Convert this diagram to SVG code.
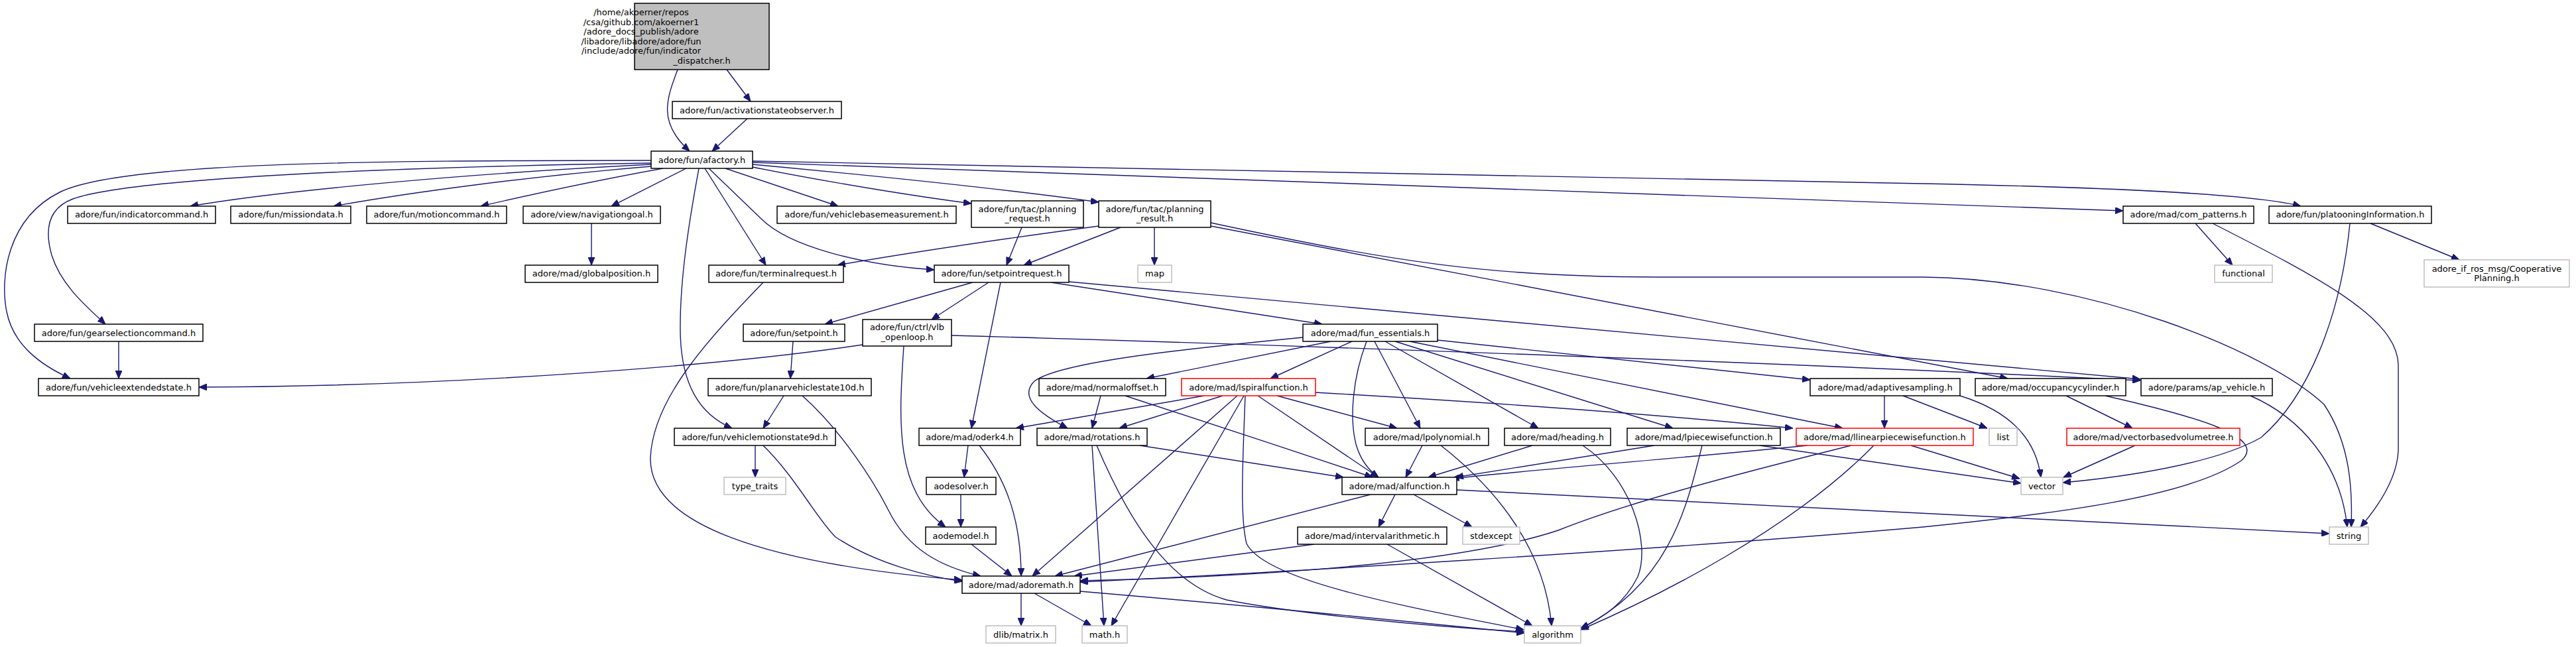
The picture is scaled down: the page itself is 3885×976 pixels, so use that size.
<svg xmlns="http://www.w3.org/2000/svg" width="3885" height="976" viewBox="0 0 3885 976">
<style>
.n rect{fill:#fff;stroke:#000;stroke-width:1.5}
.n.g rect{stroke:#bfbfbf}
.n.r rect{stroke:#ff0000}
#root rect{fill:#bfbfbf}
text{font-family:"DejaVu Sans",sans-serif;font-size:13px;text-anchor:middle;fill:#000}
#edges path{fill:none;stroke:#191970;stroke-width:1.4;marker-end:url(#a)}
</style>
<defs>
<marker id="a" markerWidth="12" markerHeight="10" refX="12" refY="5" orient="auto" markerUnits="userSpaceOnUse"><path d="M0,0L12,5L0,10z" fill="#191970" stroke="#191970" stroke-width="1"/></marker>
</defs>
<rect width="3885" height="976" fill="#fff"/>
<g id="edges">
<path d="M1022,105 C1005,150 992,185 1040,228"/>
<path d="M1096,105 L1132,153"/>
<path d="M1127,179 L1074,228"/>
<path d="M982,242 C550,242 180,245 90,290 C10,330 0,420 10,470 C20,520 60,550 106,571"/>
<path d="M982,246 C600,252 200,268 110,300 C70,315 68,350 78,385 C92,430 130,462 159,489"/>
<path d="M982,248 C700,262 420,288 287,311"/>
<path d="M982,251 C800,266 620,290 503,311"/>
<path d="M1000,254 C900,272 790,296 725,311"/>
<path d="M1035,254 L922,311"/>
<path d="M1054,254 C1040,330 1025,420 1026,500 C1027,580 1055,625 1104,646"/>
<path d="M1063,254 L1155,400"/>
<path d="M1069,254 L1148,330 C1190,372 1300,400 1409,407"/>
<path d="M1094,254 L1264,311"/>
<path d="M1135,252 C1250,275 1380,296 1465,307"/>
<path d="M1135,248 C1350,268 1550,290 1657,305"/>
<path d="M1135,245 L3202,318"/>
<path d="M1135,243 L2900,277 C3200,283 3400,293 3470,311"/>
<path d="M892,337 L892,400"/>
<path d="M179,515 L179,571"/>
<path d="M1541,343 L1518,400"/>
<path d="M1657,341 C1500,362 1350,385 1263,400"/>
<path d="M1690,343 L1544,400"/>
<path d="M1741,343 L1741,400"/>
<path d="M1826,336 C2100,395 2250,418 2500,418 L2900,418 C3150,420 3420,530 3505,610 C3545,670 3548,740 3546,795"/>
<path d="M1826,341 L3028,571"/>
<path d="M1467,426 L1244,489"/>
<path d="M1491,426 L1405,482"/>
<path d="M1509,426 L1465,646"/>
<path d="M1585,426 L1994,489"/>
<path d="M1612,425 L3228,572"/>
<path d="M1435,506 C2000,522 2700,548 3228,574"/>
<path d="M1301,520 C1100,550 700,583 300,584"/>
<path d="M1363,522 C1355,640 1350,740 1426,795"/>
<path d="M1196,515 L1192,571"/>
<path d="M1151,426 C1070,510 985,600 981,690 C978,790 1150,850 1451,875"/>
<path d="M1182,597 L1151,646"/>
<path d="M1210,597 C1270,650 1320,730 1340,770 C1370,830 1420,855 1479,869"/>
<path d="M1139,672 L1139,720"/>
<path d="M1151,672 C1200,720 1230,780 1260,810 C1320,850 1400,870 1451,877"/>
<path d="M1460,672 L1454,720"/>
<path d="M1477,672 C1515,720 1540,780 1540,869"/>
<path d="M1449,746 L1449,795"/>
<path d="M1465,821 L1526,869"/>
<path d="M1540,895 L1540,944"/>
<path d="M1560,895 L1646,944"/>
<path d="M1629,892 C1900,915 2150,940 2299,955"/>
<path d="M1647,672 L1665,944"/>
<path d="M1654,672 C1700,780 1760,880 1850,905 C1950,925 2150,945 2299,953"/>
<path d="M1719,672 L2026,720"/>
<path d="M1816,597 L1532,646"/>
<path d="M1844,597 L1688,646"/>
<path d="M1866,597 L1557,869"/>
<path d="M1876,597 L1676,944"/>
<path d="M1878,597 C1874,700 1870,780 1880,820 C1910,880 2150,920 2298,950"/>
<path d="M1897,597 L2079,720"/>
<path d="M1926,597 L2107,646"/>
<path d="M1984,592 C2300,610 2550,630 2704,646"/>
<path d="M1660,597 L1647,646"/>
<path d="M1697,597 C1800,630 1950,680 2070,720"/>
<path d="M2007,515 L1729,571"/>
<path d="M2039,515 L1916,571"/>
<path d="M1965,509 C1800,525 1600,545 1560,575 C1535,600 1570,625 1610,646"/>
<path d="M2061,515 C2040,570 2035,630 2045,670 C2052,695 2065,710 2079,720"/>
<path d="M2073,515 L2142,646"/>
<path d="M2089,515 L2320,646"/>
<path d="M2104,515 L2523,646"/>
<path d="M2126,515 L2779,646"/>
<path d="M2168,513 L2730,573"/>
<path d="M2842,597 L2842,646"/>
<path d="M2870,597 L2997,646"/>
<path d="M2956,597 C3030,620 3070,660 3078,720"/>
<path d="M3116,597 L3216,646"/>
<path d="M3175,597 C3320,630 3420,660 3380,695 C3300,750 3100,775 2900,795 C2500,830 1900,865 1629,878"/>
<path d="M2792,672 C2600,720 2450,760 2350,800 C2200,850 1900,870 1629,876"/>
<path d="M2726,672 C2550,690 2350,705 2189,722"/>
<path d="M2826,672 C2700,800 2500,900 2384,950"/>
<path d="M2882,672 L3046,722"/>
<path d="M2495,672 L2195,720"/>
<path d="M2567,672 C2545,760 2520,880 2384,948"/>
<path d="M2654,672 L3048,729"/>
<path d="M2311,672 L2154,720"/>
<path d="M2387,672 C2460,720 2490,820 2470,870 C2450,910 2420,930 2384,948"/>
<path d="M2145,672 L2120,720"/>
<path d="M2173,672 C2260,740 2330,830 2340,944"/>
<path d="M2104,746 L2079,795"/>
<path d="M2132,746 L2220,795"/>
<path d="M2197,739 L3513,805"/>
<path d="M2067,746 L1591,869"/>
<path d="M1982,821 L1620,869"/>
<path d="M2092,821 L2311,944"/>
<path d="M3220,672 L3112,720"/>
<path d="M3544,337 C3530,480 3480,600 3410,660 C3340,700 3200,720 3111,728"/>
<path d="M3575,337 L3709,392"/>
<path d="M3311,337 L3367,400"/>
<path d="M3337,337 C3500,420 3615,480 3617,550 L3617,680 C3615,720 3590,760 3560,795"/>
<path d="M3394,597 C3470,630 3530,700 3540,795"/>
</g>
<g id="root" class="n"><rect x="957" y="5" width="203" height="100"/>
<text x="967" y="23" text-anchor="start">/home/akoerner/repos</text>
<text x="967" y="37.5" text-anchor="start">/csa/github.com/akoerner1</text>
<text x="967" y="52" text-anchor="start">/adore_docs_publish/adore</text>
<text x="967" y="66.5" text-anchor="start">/libadore/libadore/adore/fun</text>
<text x="967" y="81" text-anchor="start">/include/adore/fun/indicator</text>
<text x="1058.5" y="95.5">_dispatcher.h</text></g>
<g id="n_obs" class="n"><rect x="1014" y="153" width="255" height="26"/><text x="1141.5" y="170.5">adore/fun/activationstateobserver.h</text></g>
<g id="n_afactory" class="n"><rect x="982" y="228" width="153" height="26"/><text x="1058.5" y="245.5">adore/fun/afactory.h</text></g>
<g id="n_indicatorcommand" class="n"><rect x="102" y="311" width="223" height="26"/><text x="213.5" y="328">adore/fun/indicatorcommand.h</text></g>
<g id="n_missiondata" class="n"><rect x="348" y="311" width="181" height="26"/><text x="438.5" y="328">adore/fun/missiondata.h</text></g>
<g id="n_motioncommand" class="n"><rect x="553" y="311" width="211" height="26"/><text x="658.5" y="328">adore/fun/motioncommand.h</text></g>
<g id="n_navigationgoal" class="n"><rect x="789" y="311" width="207" height="26"/><text x="892.5" y="328">adore/view/navigationgoal.h</text></g>
<g id="n_vehiclebasemeasurement" class="n"><rect x="1172" y="311" width="270" height="26"/><text x="1307" y="328">adore/fun/vehiclebasemeasurement.h</text></g>
<g id="n_planning_request" class="n"><rect x="1465" y="303" width="169" height="40"/><text x="1549.5" y="319.5">adore/fun/tac/planning</text><text x="1549.5" y="334">_request.h</text></g>
<g id="n_planning_result" class="n"><rect x="1657" y="303" width="169" height="40"/><text x="1741.5" y="319.5">adore/fun/tac/planning</text><text x="1741.5" y="334">_result.h</text></g>
<g id="n_com_patterns" class="n"><rect x="3202" y="311" width="197" height="26"/><text x="3300.5" y="328">adore/mad/com_patterns.h</text></g>
<g id="n_platooning" class="n"><rect x="3422" y="311" width="245" height="26"/><text x="3544.5" y="328">adore/fun/platooningInformation.h</text></g>
<g id="n_globalposition" class="n"><rect x="792" y="400" width="200" height="26"/><text x="892" y="417">adore/mad/globalposition.h</text></g>
<g id="n_terminalrequest" class="n"><rect x="1069" y="400" width="203" height="26"/><text x="1170.5" y="417">adore/fun/terminalrequest.h</text></g>
<g id="n_setpointrequest" class="n"><rect x="1409" y="400" width="203" height="26"/><text x="1510.5" y="417">adore/fun/setpointrequest.h</text></g>
<g id="n_map" class="n g"><rect x="1716" y="400" width="51" height="26"/><text x="1741.5" y="417">map</text></g>
<g id="n_functional" class="n g"><rect x="3340" y="400" width="87" height="26"/><text x="3383.5" y="417">functional</text></g>
<g id="n_coop" class="n g"><rect x="3656" y="392" width="219" height="41"/><text x="3765.5" y="409.5">adore_if_ros_msg/Cooperative</text><text x="3765.5" y="424">Planning.h</text></g>
<g id="n_gearselection" class="n"><rect x="52" y="489" width="254" height="26"/><text x="179" y="506.5">adore/fun/gearselectioncommand.h</text></g>
<g id="n_setpoint" class="n"><rect x="1121" y="489" width="153" height="26"/><text x="1197.5" y="506.5">adore/fun/setpoint.h</text></g>
<g id="n_ctrlvlb" class="n"><rect x="1301" y="482" width="134" height="40"/><text x="1368" y="498">adore/fun/ctrl/vlb</text><text x="1368" y="512.5">_openloop.h</text></g>
<g id="n_fun_essentials" class="n"><rect x="1965" y="489" width="203" height="26"/><text x="2066.5" y="506.5">adore/mad/fun_essentials.h</text></g>
<g id="n_vehicleextendedstate" class="n"><rect x="58" y="571" width="242" height="26"/><text x="179" y="588.5">adore/fun/vehicleextendedstate.h</text></g>
<g id="n_planar10d" class="n"><rect x="1068" y="571" width="246" height="26"/><text x="1191" y="588.5">adore/fun/planarvehiclestate10d.h</text></g>
<g id="n_normaloffset" class="n"><rect x="1567" y="571" width="191" height="26"/><text x="1662.5" y="588.5">adore/mad/normaloffset.h</text></g>
<g id="n_lspiral" class="n r"><rect x="1782" y="571" width="202" height="26"/><text x="1883" y="588.5">adore/mad/lspiralfunction.h</text></g>
<g id="n_adaptivesampling" class="n"><rect x="2730" y="571" width="226" height="26"/><text x="2843" y="588.5">adore/mad/adaptivesampling.h</text></g>
<g id="n_occupancycylinder" class="n"><rect x="2979" y="571" width="227" height="26"/><text x="3092.5" y="588.5">adore/mad/occupancycylinder.h</text></g>
<g id="n_ap_vehicle" class="n"><rect x="3229" y="571" width="198" height="26"/><text x="3328" y="588.5">adore/params/ap_vehicle.h</text></g>
<g id="n_vms9d" class="n"><rect x="1017" y="646" width="243" height="26"/><text x="1138.5" y="663.5">adore/fun/vehiclemotionstate9d.h</text></g>
<g id="n_oderk4" class="n"><rect x="1386" y="646" width="153" height="26"/><text x="1462.5" y="663.5">adore/mad/oderk4.h</text></g>
<g id="n_rotations" class="n"><rect x="1564" y="646" width="166" height="26"/><text x="1647" y="663.5">adore/mad/rotations.h</text></g>
<g id="n_lpolynomial" class="n"><rect x="2059" y="646" width="186" height="26"/><text x="2152" y="663.5">adore/mad/lpolynomial.h</text></g>
<g id="n_heading" class="n"><rect x="2269" y="646" width="160" height="26"/><text x="2349" y="663.5">adore/mad/heading.h</text></g>
<g id="n_lpiecewise" class="n"><rect x="2454" y="646" width="231" height="26"/><text x="2569.5" y="663.5">adore/mad/lpiecewisefunction.h</text></g>
<g id="n_llinear" class="n r"><rect x="2709" y="646" width="267" height="26"/><text x="2842.5" y="663.5">adore/mad/llinearpiecewisefunction.h</text></g>
<g id="n_list" class="n g"><rect x="3000" y="646" width="42" height="26"/><text x="3021" y="663.5">list</text></g>
<g id="n_vbvt" class="n r"><rect x="3117" y="646" width="261" height="26"/><text x="3247.5" y="663.5">adore/mad/vectorbasedvolumetree.h</text></g>
<g id="n_type_traits" class="n g"><rect x="1092" y="720" width="93" height="26"/><text x="1138.5" y="737.5">type_traits</text></g>
<g id="n_aodesolver" class="n"><rect x="1397" y="720" width="105" height="26"/><text x="1449.5" y="737.5">aodesolver.h</text></g>
<g id="n_alfunction" class="n"><rect x="2024" y="720" width="173" height="26"/><text x="2110.5" y="737.5">adore/mad/alfunction.h</text></g>
<g id="n_vector" class="n g"><rect x="3048" y="720" width="63" height="26"/><text x="3079.5" y="737.5">vector</text></g>
<g id="n_aodemodel" class="n"><rect x="1396" y="795" width="106" height="26"/><text x="1449" y="812.5">aodemodel.h</text></g>
<g id="n_interval" class="n"><rect x="1957" y="795" width="225" height="26"/><text x="2069.5" y="812.5">adore/mad/intervalarithmetic.h</text></g>
<g id="n_stdexcept" class="n g"><rect x="2206" y="795" width="86" height="26"/><text x="2249" y="812.5">stdexcept</text></g>
<g id="n_string" class="n g"><rect x="3513" y="795" width="59" height="26"/><text x="3542.5" y="812.5">string</text></g>
<g id="n_adoremath" class="n"><rect x="1451" y="869" width="178" height="26"/><text x="1540" y="886.5">adore/mad/adoremath.h</text></g>
<g id="n_dlib" class="n g"><rect x="1487" y="944" width="105" height="26"/><text x="1539.5" y="961.5">dlib/matrix.h</text></g>
<g id="n_math" class="n g"><rect x="1632" y="944" width="68" height="26"/><text x="1666" y="961.5">math.h</text></g>
<g id="n_algorithm" class="n g"><rect x="2299" y="944" width="85" height="26"/><text x="2341.5" y="961.5">algorithm</text></g>
</svg>
